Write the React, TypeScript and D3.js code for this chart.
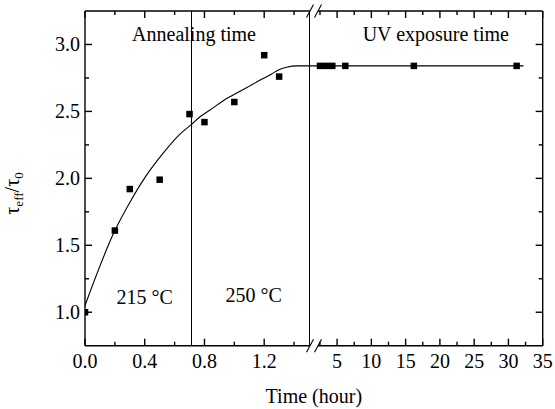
import * as d3 from "d3";
import { useEffect } from "react";

// data
const annealTime = [0, 0.2, 0.3, 0.5, 0.7, 0.8, 1.0, 1.2, 1.3];
const annealRatio = [1.0, 1.61, 1.92, 1.99, 2.48, 2.42, 2.57, 2.92, 2.76];
const uvTime = [2.5, 3.4, 4.3, 6.2, 16.2, 31.2];
const uvRatio = [2.84, 2.84, 2.84, 2.84, 2.84, 2.84];
// fitted guide line
const fitTime = [0, 0.2, 0.3, 0.41, 0.525, 0.636, 0.71, 0.77, 0.837, 0.926, 1.038, 1.15, 1.25, 1.295, 1.35, 1.42, 1.5];
const fitRatio = [1.05, 1.61, 1.82, 2.02, 2.19, 2.33, 2.4, 2.46, 2.51, 2.58, 2.65, 2.72, 2.78, 2.81, 2.83, 2.84, 2.84];
const fitUvTime = [1.0, 32.2];
const fitUvRatio = [2.84, 2.84];

const leftMajor = [0, 0.4, 0.8, 1.2];
const leftMinor = [0.2, 0.6, 1.0, 1.4];
const rightMajor = [5, 10, 15, 20, 25, 30, 35];
const rightMinor = [2.5, 7.5, 12.5, 17.5, 22.5, 27.5, 32.5];
const yMajor = [1.0, 1.5, 2.0, 2.5, 3.0];
const yMinor = [1.25, 1.75, 2.25, 2.75];

const annealEnd = 0.71; // 215 °C -> 250 °C switch

const W = 555;
const H = 409;
const left = 85;
const top = 11;
const right = 542.7;
const bottom = 345.7;
const brk = 309;

const font = "'Liberation Serif', 'Times New Roman', serif";

// keep 1px vertical lines sharp
const crisp = (v: number) => Math.round(v) + 0.5;

export default function App() {
  useEffect(() => {
    document.body.style.margin = "0";
  }, []);

  const xL = d3.scaleLinear().domain([0, 1.5]).range([left, brk]);
  const xR = d3.scaleLinear().domain([0.9, 35]).range([brk, right]);
  const y = d3.scaleLinear().domain([0.75, 3.25]).range([bottom, top]);

  const fitPts: [number, number][] = [
    ...fitTime.map((t, i) => [xL(t), y(fitRatio[i])] as [number, number]),
    ...fitUvTime.map((t, i) => [xR(t), y(fitUvRatio[i])] as [number, number]),
  ];
  const line = d3.line().curve(d3.curveMonotoneX);

  const maj = 7;
  const min = 4;
  const sq = 6.5;

  const xTicks = [
    ...leftMajor.map((v) => ({ x: xL(v), len: maj })),
    ...leftMinor.map((v) => ({ x: xL(v), len: min })),
    ...rightMajor.map((v) => ({ x: xR(v), len: maj })),
    ...rightMinor.map((v) => ({ x: xR(v), len: min })),
  ];
  const yTicks = [
    ...yMajor.map((v) => ({ y: y(v), len: maj })),
    ...yMinor.map((v) => ({ y: y(v), len: min })),
  ];

  const gapA = brk + 1;
  const gapB = brk + 9;
  const slash = (cx: number, cy: number) =>
    `M${cx - 3.5},${cy + 6.5}L${cx + 3.5},${cy - 6.5}`;

  const sepX = crisp(xL(annealEnd));
  const brkX = crisp(brk - 0.5);

  return (
    <svg width={W} height={H} style={{ display: "block", fontFamily: font }}>
      <defs>
        <clipPath id="plot">
          <rect x={left} y={top} width={right - left} height={bottom - top} />
        </clipPath>
      </defs>
      <rect width={W} height={H} fill="white" />

      {/* separators */}
      <line x1={sepX} x2={sepX} y1={top} y2={bottom} stroke="black" strokeWidth={1} />
      <line x1={brkX} x2={brkX} y1={top} y2={bottom} stroke="black" strokeWidth={1} />

      {/* fit */}
      <path d={line(fitPts) || ""} fill="none" stroke="black" strokeWidth={1.1} />

      {/* points */}
      <g clipPath="url(#plot)">
        {annealTime.map((t, i) => (
          <rect key={"a" + i} x={xL(t) - sq / 2} y={y(annealRatio[i]) - sq / 2} width={sq} height={sq} fill="black" />
        ))}
        {uvTime.map((t, i) => (
          <rect key={"u" + i} x={xR(t) - sq / 2} y={y(uvRatio[i]) - sq / 2} width={sq} height={sq} fill="black" />
        ))}
      </g>

      {/* frame */}
      <g stroke="black" strokeWidth={1.4} fill="none">
        <line x1={left} x2={left} y1={top} y2={bottom} />
        <line x1={right} x2={right} y1={top} y2={bottom} />
        <line x1={left} x2={gapA} y1={top} y2={top} />
        <line x1={gapB} x2={right} y1={top} y2={top} />
        <line x1={left} x2={gapA} y1={bottom} y2={bottom} />
        <line x1={gapB} x2={right} y1={bottom} y2={bottom} />
        <path d={slash(gapA, top) + slash(gapB, top)} strokeWidth={1.1} />
        <path d={slash(gapA, bottom) + slash(gapB, bottom)} strokeWidth={1.1} />
        {xTicks.map((t, i) => (
          <g key={"xt" + i}>
            <line x1={t.x} x2={t.x} y1={bottom} y2={bottom - t.len} />
            <line x1={t.x} x2={t.x} y1={top} y2={top + t.len} />
          </g>
        ))}
        {yTicks.map((t, i) => (
          <g key={"yt" + i}>
            <line x1={left} x2={left + t.len} y1={t.y} y2={t.y} />
            <line x1={right} x2={right - t.len} y1={t.y} y2={t.y} />
          </g>
        ))}
      </g>

      {/* tick labels */}
      <g fontSize={20} fill="black" textAnchor="middle">
        {leftMajor.map((v) => (
          <text key={"l" + v} x={xL(v)} y={368}>{d3.format(".1f")(v)}</text>
        ))}
        {rightMajor.map((v) => (
          <text key={"r" + v} x={xR(v)} y={368}>{v}</text>
        ))}
      </g>
      <g fontSize={20} fill="black" textAnchor="end">
        {yMajor.map((v) => (
          <text key={"y" + v} x={left - 5} y={y(v) + 6.5}>{d3.format(".1f")(v)}</text>
        ))}
      </g>

      {/* annotations */}
      <g fontSize={20} fill="black">
        <text x={xL(0.73)} y={40.5} textAnchor="middle">Annealing time</text>
        <text x={xR(19.4)} y={40.5} textAnchor="middle">UV exposure time</text>
        <text x={xL(0.4)} y={304} textAnchor="middle">215 °C</text>
        <text x={xL(1.13)} y={302} textAnchor="middle">250 °C</text>
        <text x={(left + right) / 2} y={402.5} textAnchor="middle">Time (hour)</text>
        <text transform={`translate(19,193.5) rotate(-90)`} textAnchor="middle">
          <tspan>τ</tspan>
          <tspan fontSize={13} dy={4}>eff</tspan>
          <tspan dy={-4}>/τ</tspan>
          <tspan fontSize={13} dy={4}>0</tspan>
        </text>
      </g>
    </svg>
  );
}
